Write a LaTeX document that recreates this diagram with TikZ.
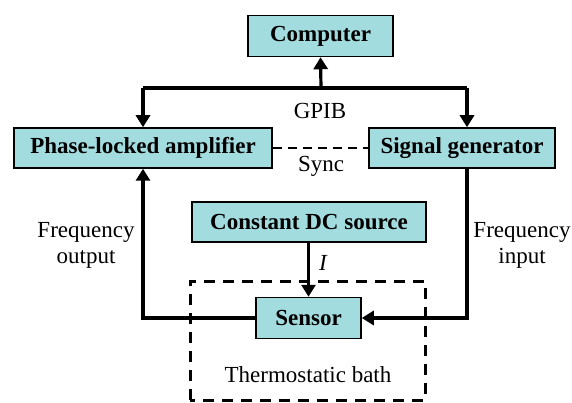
\documentclass[tikz,border=0pt]{standalone}
\usepackage{fontspec}
\setmainfont{Liberation Serif}
\usetikzlibrary{arrows.meta}
\definecolor{boxfill}{HTML}{A3DCDF}
\tikzset{
  blk/.style={draw=black, line width=1.5pt, fill=boxfill, inner sep=0pt, font=\fontsize{23}{26}\selectfont\bfseries},
  conn/.style={line width=3.2pt, -{Triangle[length=12pt,width=14pt]}},
  plain/.style={line width=3.2pt},
  lbl/.style={font=\fontsize{23}{26}\selectfont, inner sep=0pt, align=center},
}
\begin{document}
\begin{tikzpicture}[x=1pt,y=-1pt]
\useasboundingbox (0,0) rectangle (572,403);
% boxes
\node[blk, minimum width=145pt, minimum height=41pt] (comp) at (320.5,36) {Computer};
\node[blk, minimum width=258pt, minimum height=40pt] (pla) at (143,148) {Phase-locked amplifier};
\node[blk, minimum width=186pt, minimum height=40pt] (sg) at (462,148) {Signal generator};
\node[blk, minimum width=234pt, minimum height=40pt] (dc) at (309,222) {Constant DC source};
\node[blk, minimum width=105pt, minimum height=41pt] (sen) at (308.5,318) {Sensor};
% bus
\coordinate (busL) at (143,88);
\coordinate (busR) at (467,88);
\coordinate (busM) at (321,88);
\draw[plain] (busL) -- (busR);
\draw[conn] (busM) -- (comp.south);
\draw[conn] (busL) -- (pla.north -| busL);
\draw[conn] (busR) -- (sg.north -| busR);
\node[lbl] (gpib) at (320,111) {GPIB};
% sync
\draw[line width=1.8pt, dash pattern=on 9pt off 6pt] (pla.east) -- (sg.west);
\node[lbl] (sync) at (321,166) {Sync};
% DC to sensor
\draw[conn] (dc.south -| sen.north) -- (sen.north);
\node[lbl, font=\fontsize{23}{26}\selectfont\itshape] (ilbl) at (323,263) {I};
% sensor to PLA
\coordinate (sl) at (143,318);
\draw[conn] (sen.west) -- (sl) -- (pla.south -| sl);
% SG to sensor
\coordinate (sr) at (467,318);
\draw[conn] (sg.south -| sr) -- (sr) -- (sen.east);
% labels
\node[lbl] (fo) at (86,245) {Frequency\\output};
\node[lbl] (fi) at (522,245) {Frequency\\input};
% bath
\draw[line width=3pt, dash pattern=on 11pt off 8pt] (190,400) -- (190,281) -- (425,281) -- (425,400) -- cycle;
\node[lbl] (bath) at (308,375) {Thermostatic bath};
\end{tikzpicture}
\end{document}
